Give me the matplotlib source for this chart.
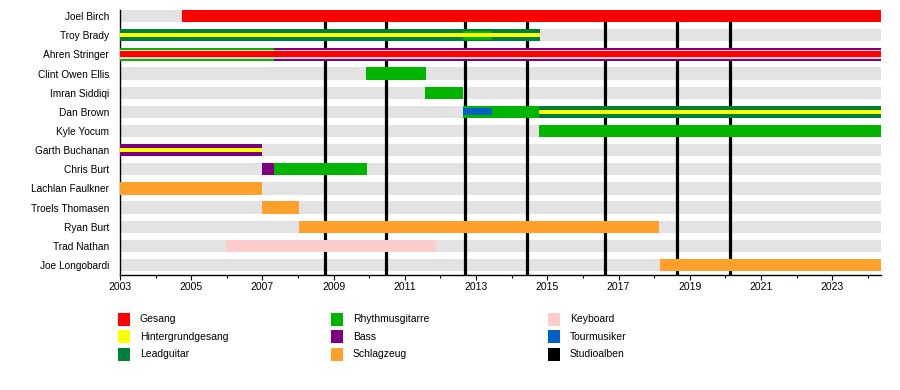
import matplotlib
matplotlib.use('Agg')
import matplotlib.pyplot as plt
from matplotlib.patches import Rectangle
from matplotlib.ticker import FixedLocator

plt.rcParams['font.family'] = ['Liberation Sans', 'DejaVu Sans']

# ---------------- data ----------------
members = ['Joel Birch', 'Troy Brady', 'Ahren Stringer', 'Clint Owen Ellis',
           'Imran Siddiqi', 'Dan Brown', 'Kyle Yocum', 'Garth Buchanan',
           'Chris Burt', 'Lachlan Faulkner', 'Troels Thomasen', 'Ryan Burt',
           'Trad Nathan', 'Joe Longobardi']
roles = ['Gesang', 'Hintergrundgesang', 'Leadguitar', 'Rhythmusgitarre', 'Bass',
         'Schlagzeug', 'Keyboard', 'Tourmusiker', 'Studioalben']
role_colors = ['#ff0000', '#ffff00', '#007f3a', '#00b400', '#7f007f',
               '#ffa02a', '#ffcccc', '#0060c8', '#000000']
start_year = 2003
end_year = 2024.37
albums = [2008.76, 2010.47, 2012.69, 2014.43, 2016.62, 2018.65, 2020.13]
tick_years = list(range(2003, 2025, 2))

seg_member = ['Joel Birch',
              'Troy Brady', 'Troy Brady', 'Troy Brady',
              'Ahren Stringer', 'Ahren Stringer', 'Ahren Stringer', 'Ahren Stringer',
              'Clint Owen Ellis', 'Imran Siddiqi',
              'Dan Brown', 'Dan Brown', 'Dan Brown', 'Dan Brown',
              'Kyle Yocum',
              'Garth Buchanan', 'Garth Buchanan',
              'Chris Burt', 'Chris Burt',
              'Lachlan Faulkner', 'Troels Thomasen', 'Ryan Burt',
              'Trad Nathan', 'Joe Longobardi']
seg_role = ['Gesang',
            'Leadguitar', 'Rhythmusgitarre', 'Hintergrundgesang',
            'Rhythmusgitarre', 'Bass', 'Keyboard', 'Gesang',
            'Rhythmusgitarre', 'Rhythmusgitarre',
            'Rhythmusgitarre', 'Tourmusiker', 'Leadguitar', 'Hintergrundgesang',
            'Rhythmusgitarre',
            'Bass', 'Hintergrundgesang',
            'Bass', 'Rhythmusgitarre',
            'Schlagzeug', 'Schlagzeug', 'Schlagzeug',
            'Keyboard', 'Schlagzeug']
seg_start = [2004.74,
             2003, 2012.64, 2003,
             2003, 2007.33, 2003, 2003,
             2009.91, 2011.57,
             2012.62, 2012.62, 2014.78, 2014.78,
             2014.78,
             2003, 2003,
             2007.0, 2007.33,
             2003, 2007.0, 2008.03,
             2005.98, 2018.17]
seg_end = [end_year,
           2014.8, 2013.44, 2014.8,
           2007.33, end_year, end_year, end_year,
           2011.6, 2012.63,
           2014.78, 2013.44, end_year, end_year,
           end_year,
           2007.0, 2007.0,
           2007.33, 2009.94,
           2007.0, 2008.03, 2018.14,
           2011.88, end_year]
seg_primary = [True,
               True, False, False,
               True, True, False, False,
               True, True,
               True, False, True, False,
               True,
               True, False,
               True, True,
               True, True, True,
               True, True]

# ---------------- style ----------------
BAR_H = 0.64
INNER_FRAC = {'Hintergrundgesang': 0.32, 'Gesang': 0.48, 'Keyboard': 0.68,
              'Tourmusiker': 0.55, 'Rhythmusgitarre': 0.72}
color_of = dict(zip(roles, role_colors))

fig = plt.figure(figsize=(9, 3.9), dpi=100)
ax = fig.add_axes([120 / 900, 1 - 275 / 390, 761 / 900, 265 / 390])

ypos = {m: i for i, m in enumerate(members)}

# background rows
ax.barh(range(len(members)), end_year - start_year, left=start_year,
        height=BAR_H, color='#e3e3e3', linewidth=0, zorder=1)

# album lines
ax.vlines(albums, -0.32, 13.6, colors='black', linewidth=2.3, zorder=2)

# primary bars
for m, r, s, e, p in zip(seg_member, seg_role, seg_start, seg_end, seg_primary):
    if p:
        ax.barh(ypos[m], e - s, left=s, height=BAR_H, color=color_of[r],
                linewidth=0, zorder=3)
# secondary (inner) bars, widest first
sec = [(m, r, s, e) for m, r, s, e, p in
       zip(seg_member, seg_role, seg_start, seg_end, seg_primary) if not p]
sec.sort(key=lambda t: -INNER_FRAC[t[1]])
for m, r, s, e in sec:
    ax.barh(ypos[m], e - s, left=s, height=BAR_H * INNER_FRAC[r],
            color=color_of[r], linewidth=0, zorder=4)

ax.set_xlim(start_year, end_year)
ax.set_ylim(13.525, -0.32)
ax.set_yticks(range(len(members)))
ax.set_yticklabels(members, fontsize=7.3)
ax.tick_params(axis='y', length=0, pad=8)
ax.xaxis.set_major_locator(FixedLocator(tick_years))
ax.xaxis.set_minor_locator(FixedLocator(list(range(2003, 2025))))
ax.set_xticklabels([str(y) for y in tick_years], fontsize=7.5)
ax.tick_params(axis='x', which='major', length=3.8, width=0.8, pad=1.5)
ax.tick_params(axis='x', which='minor', length=2.2, width=0.8)
for side in ['top', 'right']:
    ax.spines[side].set_visible(False)
ax.spines['left'].set_linewidth(1.0)
ax.spines['bottom'].set_linewidth(1.0)

# legend (3 columns x 3 rows)
col_x = [118, 331, 548]
row_y = [319, 336.5, 354]
for k, (r, c) in enumerate(zip(roles, role_colors)):
    cx = col_x[k // 3]
    cy = row_y[k % 3]
    fig.add_artist(Rectangle((cx / 900, 1 - (cy + 6.5) / 390), 12 / 900, 13 / 390,
                             transform=fig.transFigure, facecolor=c,
                             edgecolor='none'))
    fig.text((cx + 22) / 900, 1 - cy / 390, r, fontsize=7.5, va='center',
             ha='left')

fig.savefig('out.png', dpi=100)
